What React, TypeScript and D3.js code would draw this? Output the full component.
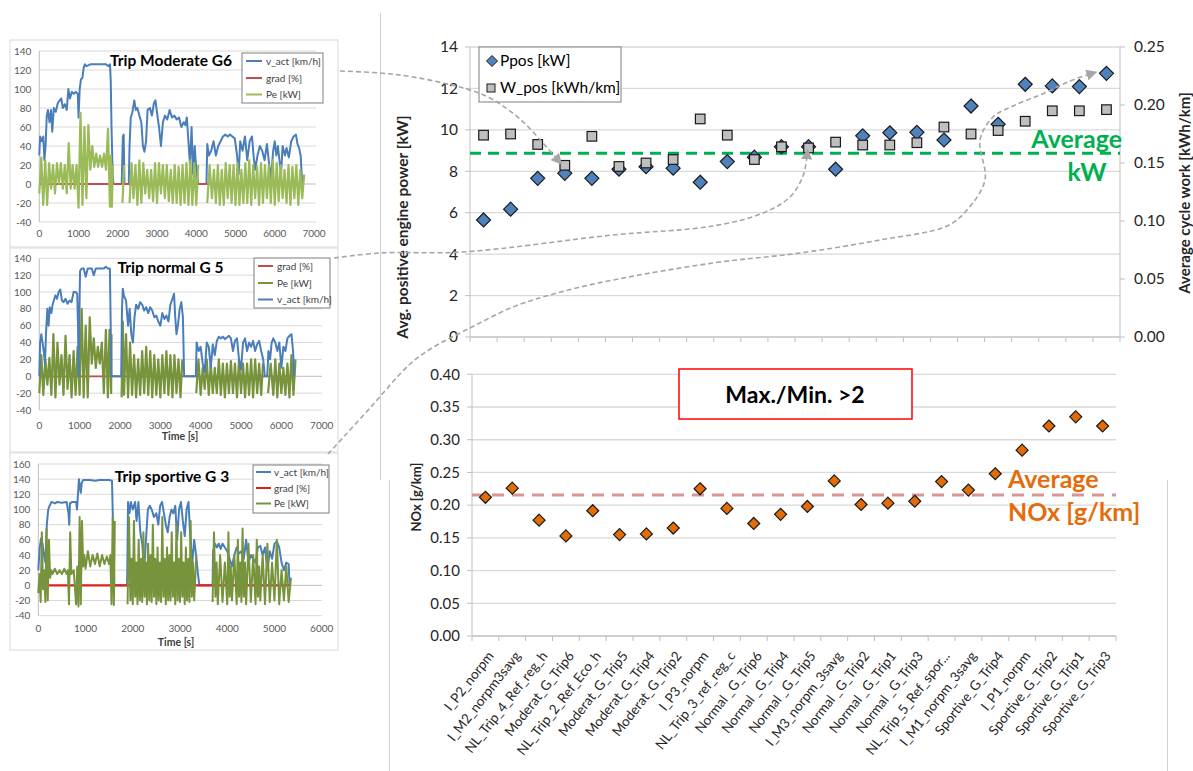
import React from 'react';
import * as d3 from 'd3';

const FONT = "Lato, 'Open Sans', 'DejaVu Sans', sans-serif";

// ---------------- main chart data ----------------
const categories = [
  'I_P2_norpm', 'I_M2_norpm3savg', 'NL_Trip_4_Ref_reg_h', 'Moderat_G_Trip6', 'NL_Trip_2_Ref_Eco_h',
  'Moderat_G_Trip5', 'Moderat_G_Trip4', 'Moderat_G_Trip2', 'I_P3_norpm', 'NL_Trip_3_ref_reg_c',
  'Normal _G_Trip6', 'Normal _G_Trip4', 'Normal _G_Trip5', 'I_M3_norpm_3savg', 'Normal _G_Trip2',
  'Normal _G_Trip1', 'Normal _G_Trip3', 'NL_Trip_5_Ref_spor...', 'I_M1_norpm_3savg', 'Sportive_G_Trip4',
  'I_P1_norpm', 'Sportive_G_Trip2', 'Sportive_G_Trip1', 'Sportive_G_Trip3'];

const pposKW = [5.65, 6.17, 7.66, 7.9, 7.66, 8.1, 8.22, 8.15, 7.47, 8.47, 8.68, 9.19,
  9.19, 8.1, 9.71, 9.86, 9.88, 9.51, 11.15, 10.27, 12.2, 12.12, 12.09, 12.73];
const wposKWhKm = [0.174, 0.175, 0.166, 0.148, 0.173, 0.147, 0.15, 0.153, 0.188, 0.174, 0.153, 0.164,
  0.163, 0.168, 0.1655, 0.1655, 0.1675, 0.181, 0.175, 0.178, 0.186, 0.195, 0.195, 0.196];
const noxGkm = [0.212, 0.226, 0.177, 0.153, 0.1915, 0.155, 0.156, 0.165, 0.225, 0.195, 0.172, 0.186,
  0.198, 0.237, 0.201, 0.203, 0.206, 0.236, 0.223, 0.248, 0.284, 0.321, 0.335, 0.321];
const avgKW = 8.87;
const avgNOx = 0.2155;

const powerTicks = [0, 2, 4, 6, 8, 10, 12, 14];
const workTicks = [0, 0.05, 0.1, 0.15, 0.2, 0.25];
const noxTicks = [0, 0.05, 0.1, 0.15, 0.2, 0.25, 0.3, 0.35, 0.4];

// ---------------- small trip charts data ----------------
// [time s, value]
const moderateVact = [[0,30],[20,50],[60,45],[100,50],[130,25],[160,40],[190,72],[220,78],[260,65],[300,78],[330,55],[370,80],[420,76],[470,85],[520,88],[560,90],[600,80],[650,84],[700,78],[740,100],[780,90],[830,97],[880,95],[930,97],[980,95],[1000,70],[1030,100],[1060,110],[1100,112],[1130,122],[1160,126],[1200,124],[1300,126],[1400,126],[1500,126],[1600,126],[1700,126],[1760,124],[1800,126],[1820,110],[1840,60],[1870,10],[1890,0],[2000,0],[2100,0],[2130,50],[2150,52],[2170,0],[2280,0],[2300,40],[2330,70],[2370,75],[2420,88],[2460,78],[2500,80],[2550,72],[2600,65],[2640,40],[2680,34],[2720,45],[2760,78],[2820,80],[2870,72],[2920,85],[2960,88],[3000,75],[3050,60],[3100,40],[3150,65],[3200,72],[3260,68],[3320,78],[3380,70],[3440,72],[3500,68],[3560,70],[3620,60],[3680,65],[3720,62],[3760,70],[3800,45],[3840,20],[3880,60],[3920,10],[3960,40],[4000,15],[4050,0],[4200,0],[4260,0],[4280,42],[4320,30],[4380,35],[4440,45],[4500,30],[4560,40],[4620,45],[4680,50],[4740,52],[4800,50],[4860,52],[4920,50],[4980,48],[5040,30],[5080,10],[5120,45],[5180,35],[5240,50],[5300,25],[5360,45],[5420,50],[5460,30],[5500,15],[5560,30],[5620,40],[5680,35],[5740,25],[5800,42],[5860,20],[5900,5],[5960,35],[6000,45],[6040,30],[6080,40],[6120,25],[6160,10],[6200,40],[6260,30],[6300,38],[6360,28],[6420,45],[6480,50],[6540,52],[6580,42],[6620,38],[6660,30],[6700,0]];
// [time s, low, high] per interval
const moderatePe = [[0,-10,28],[100,-22,25],[200,-22,22],[300,-5,20],[400,-10,22],[500,0,22],[600,-5,20],[700,-10,43],[800,-5,20],[900,-5,20],[1000,-25,75],[1100,-22,60],[1200,-15,62],[1300,15,40],[1400,18,32],[1500,18,30],[1600,18,32],[1700,15,58],[1800,-24,30],[1850,-24,20],[1900,null,null],[2120,-20,20],[2200,null,null],[2300,-20,22],[2400,-15,20],[2500,-22,25],[2600,-20,22],[2700,-10,15],[2800,-15,15],[2900,-18,22],[3000,-20,22],[3100,-10,20],[3200,-15,20],[3300,-18,15],[3400,-20,20],[3500,-20,18],[3600,-22,20],[3700,-20,22],[3800,-22,25],[3900,-22,22],[4000,-22,20],[4100,null,null],[4280,-20,20],[4400,-15,15],[4500,-20,20],[4600,-22,15],[4700,-22,22],[4800,-15,20],[4900,-20,20],[5000,-22,22],[5100,-22,15],[5200,-20,22],[5300,-20,25],[5400,-22,20],[5500,-15,18],[5600,-22,22],[5700,-20,20],[5800,-15,20],[5900,-20,25],[6000,-22,22],[6100,-18,20],[6200,-15,15],[6300,-20,20],[6400,-22,18],[6500,-15,20],[6600,-22,15],[6700,-15,10]];
const moderateGrad = [[0,0],[6700,0]];

const normalVact = [[0,0],[20,40],[50,50],[80,40],[110,30],[140,15],[170,55],[200,80],[230,60],[260,82],[300,75],[330,85],[360,90],[400,96],[440,92],[480,100],[520,103],[560,90],[600,88],[650,92],[700,86],[750,90],[800,88],[850,100],[900,100],[940,98],[960,60],[975,0],[990,60],[1010,125],[1050,128],[1100,128],[1150,118],[1200,128],[1300,128],[1350,120],[1400,128],[1500,128],[1600,128],[1650,130],[1700,128],[1750,128],[1770,60],[1790,0],[2030,0],[2050,80],[2070,104],[2100,95],[2150,90],[2200,60],[2240,80],[2280,50],[2320,40],[2360,70],[2400,85],[2450,80],[2500,88],[2550,85],[2600,78],[2650,82],[2700,75],[2750,82],[2800,78],[2850,70],[2900,72],[2950,65],[3000,60],[3050,75],[3100,68],[3150,72],[3200,65],[3250,85],[3300,92],[3340,98],[3370,70],[3400,50],[3440,62],[3480,80],[3520,88],[3560,70],[3590,0],[3880,0],[3900,40],[3950,30],[4000,35],[4050,15],[4100,5],[4150,40],[4200,35],[4250,10],[4300,38],[4350,25],[4400,42],[4450,47],[4500,45],[4550,47],[4600,44],[4650,46],[4700,48],[4750,45],[4800,30],[4850,42],[4900,45],[4950,20],[5000,8],[5050,40],[5100,45],[5150,30],[5200,40],[5250,35],[5300,42],[5350,30],[5400,38],[5450,42],[5500,30],[5550,20],[5590,0],[5650,0],[5680,30],[5720,20],[5760,40],[5800,45],[5850,40],[5900,30],[5950,40],[6000,10],[6050,35],[6100,30],[6150,45],[6200,48],[6250,50],[6290,30],[6320,0]];
const normalPe = [[0,-20,25],[100,-22,20],[200,-10,22],[300,-22,50],[400,-25,40],[500,-10,25],[600,-22,48],[700,-15,25],[800,-25,30],[900,-22,35],[1000,-22,80],[1100,-25,60],[1200,-25,70],[1300,15,45],[1400,10,35],[1500,15,40],[1600,-20,55],[1700,-25,55],[1780,-20,50],[1800,null,null],[2040,-25,65],[2100,-22,50],[2200,-25,40],[2300,-22,25],[2400,-25,20],[2500,-22,30],[2600,-20,35],[2700,-22,30],[2800,-25,25],[2900,-22,20],[3000,-25,25],[3100,-20,30],[3200,-22,25],[3300,-25,25],[3400,-20,20],[3500,-25,20],[3590,null,null],[3890,-20,20],[4000,-22,10],[4100,-15,20],[4200,-22,15],[4300,-20,10],[4400,-20,20],[4500,-22,15],[4600,-25,15],[4700,-20,18],[4800,-20,15],[4900,-25,20],[5000,-20,15],[5100,-25,15],[5200,-22,20],[5300,-25,20],[5400,-20,15],[5500,-22,15],[5590,null,null],[5670,-20,15],[5800,-22,20],[5900,-25,15],[6000,-20,10],[6100,-22,15],[6200,-25,25],[6300,-22,20]];
const normalGrad = [[0,0],[6320,0]];

const sportiveVact = [[0,20],[30,50],[60,62],[90,55],[120,40],[150,30],[180,80],[210,100],[240,105],[280,110],[350,108],[400,110],[500,109],[600,110],[640,95],[655,80],[670,108],[720,110],[800,110],[820,100],[840,120],[860,140],[900,122],[920,135],[950,139],[1100,139],[1200,138],[1300,139],[1400,139],[1500,139],[1560,138],[1590,60],[1610,0],[1880,0],[1900,110],[1930,95],[1960,110],[2000,100],[2050,110],[2080,85],[2120,110],[2160,70],[2200,55],[2240,20],[2280,60],[2320,100],[2360,105],[2400,100],[2450,90],[2500,95],[2540,80],[2580,105],[2620,110],[2660,95],[2700,80],[2740,70],[2780,90],[2820,100],[2860,95],[2900,105],[2940,60],[2980,100],[3020,110],[3060,85],[3100,65],[3140,100],[3180,110],[3220,60],[3260,30],[3300,60],[3340,40],[3380,15],[3410,0],[3690,0],[3700,45],[3740,55],[3780,50],[3820,55],[3860,48],[3900,55],[3950,50],[4000,45],[4050,35],[4100,25],[4150,40],[4200,50],[4250,42],[4300,45],[4350,35],[4400,60],[4450,30],[4500,40],[4550,35],[4600,30],[4650,50],[4700,52],[4750,40],[4800,50],[4850,20],[4900,45],[4950,35],[5000,55],[5050,58],[5100,50],[5150,30],[5200,20],[5250,30],[5300,28],[5320,0]];
const sportivePe = [[0,-10,15],[50,-22,70],[100,-5,20],[150,-22,75],[200,-20,60],[250,10,20],[300,15,22],[400,15,20],[500,15,22],[600,15,20],[650,-25,70],[700,15,20],[800,-25,25],[850,-28,90],[900,-25,85],[950,25,40],[1000,22,45],[1100,25,40],[1200,28,42],[1300,25,40],[1400,28,38],[1500,28,40],[1550,-25,90],[1600,-26,85],[1640,null,null],[1890,-25,90],[1950,-20,35],[2000,-25,85],[2050,-15,30],[2100,-25,60],[2150,-20,35],[2200,-22,70],[2250,-15,30],[2300,-25,55],[2350,-20,40],[2400,-22,80],[2450,-15,35],[2500,-25,50],[2550,-20,30],[2600,-22,90],[2650,-15,35],[2700,-25,50],[2750,-20,40],[2800,-20,70],[2850,-15,30],[2900,-25,80],[2950,-20,35],[3000,-22,70],[3050,-15,30],[3100,-25,50],[3150,-20,35],[3200,-22,85],[3250,-15,30],[3300,-20,40],[3390,null,null],[3690,-22,70],[3750,-15,30],[3800,-25,40],[3900,-22,30],[4000,-25,70],[4050,-15,25],[4100,-20,40],[4200,-25,60],[4250,-15,30],[4300,-22,75],[4350,-15,30],[4400,-25,55],[4500,-22,40],[4600,-25,60],[4650,-15,25],[4700,-20,40],[4800,-25,55],[4900,-22,30],[5000,-20,60],[5100,-25,20],[5200,-20,25],[5300,-22,10]];
const sportiveGrad = [[0,0],[5320,0]];

// ---------------- layout (positions / styles) ----------------
const BLUE = '#4a7ebb';
const tripCharts = [
  {
    frame: [10, 40, 328, 207], px0: 39.3, px1: 314, gridRight: 316, pyTop: 51, pyBot: 222,
    yMin: -40, yMax: 140, xMax: 7000, tickY: 233,
    title: 'Trip Moderate G6', titleX: 171, titleY: 66,
    legend: { x: 242, y: 53, w: 81, h: 50, rows: [61, 78, 94.5], lx0: 246, lx1: 262, tx: 266 },
    series: [
      { name: 'v_act [km/h]', color: BLUE, width: 2, kind: 'line', data: moderateVact },
      { name: 'grad [%]', color: '#c0504d', width: 1.8, kind: 'line', data: moderateGrad },
      { name: 'Pe [kW]', color: '#9bbb59', width: 2.2, kind: 'band', data: moderatePe },
    ],
    timeLabel: null,
  },
  {
    frame: [10, 248, 328, 204], px0: 39.3, px1: 321.7, gridRight: 322, pyTop: 258.3, pyBot: 410,
    yMin: -40, yMax: 140, xMax: 7000, tickY: 425,
    title: 'Trip normal G 5', titleX: 170.5, titleY: 273,
    legend: { x: 254, y: 258, w: 76, h: 50, rows: [266, 283, 299.5], lx0: 258, lx1: 273, tx: 277 },
    series: [
      { name: 'grad [%]', color: '#c0504d', width: 1.8, kind: 'line', data: normalGrad },
      { name: 'Pe [kW]', color: '#77933c', width: 2.2, kind: 'band', data: normalPe },
      { name: 'v_act [km/h]', color: BLUE, width: 2, kind: 'line', data: normalVact },
    ],
    timeLabel: [180, 436],
  },
  {
    frame: [10, 453, 328, 197], px0: 38.3, px1: 321.7, gridRight: 322, pyTop: 464, pyBot: 615.7,
    yMin: -40, yMax: 160, xMax: 6000, tickY: 628,
    title: 'Trip sportive G 3', titleX: 172, titleY: 482,
    legend: { x: 253, y: 465, w: 76, h: 48, rows: [472, 488, 503.5], lx0: 256, lx1: 271, tx: 274 },
    series: [
      { name: 'v_act [km/h]', color: BLUE, width: 2, kind: 'line', data: sportiveVact },
      { name: 'grad [%]', color: '#e3211c', width: 2.2, kind: 'line', data: sportiveGrad },
      { name: 'Pe [kW]', color: '#77933c', width: 2, kind: 'band', data: sportivePe },
    ],
    timeLabel: [176, 642],
  },
];

const arrowPaths = [
  [[340, 71], [380, 73], [413, 77], [463, 88], [490, 98], [520, 119], [543, 143], [557, 159]],
  [[334, 258], [380, 253], [463, 252], [613, 235], [713, 226], [763, 213], [790, 197], [803, 176], [807, 156]],
  [[328, 454], [370, 408], [410, 364], [432, 348], [470, 328], [513, 307], [557, 293], [613, 280], [713, 263], [800, 253], [880, 240], [947, 226], [967, 210], [985, 180], [980, 140], [993, 117], [1013, 106], [1047, 92], [1070, 81], [1090, 74]],
];

function diamond(cx: number, cy: number, r: number) {
  return `M${cx},${cy - r}L${cx + r},${cy}L${cx},${cy + r}L${cx - r},${cy}Z`;
}

function TripChart({ cfg }: { cfg: any }) {
  const x = d3.scaleLinear().domain([0, cfg.xMax]).range([cfg.px0, cfg.px1]);
  const y = d3.scaleLinear().domain([cfg.yMin, cfg.yMax]).range([cfg.pyBot, cfg.pyTop]);
  const yTicks = d3.range(cfg.yMin, cfg.yMax + 1, 20);
  const xTicks = d3.range(0, cfg.xMax + 1, 1000);
  const line = d3.line<any>().defined((d) => d[1] != null).x((d) => x(d[0])).y((d) => y(d[1]));
  const bandPts = (data: any[]) => {
    const pts: any[] = [];
    data.forEach((d, i) => {
      const next = data[i + 1];
      const tm = next ? (d[0] + next[0]) / 2 : d[0] + 50;
      pts.push([d[0], d[1]]);
      pts.push([tm, d[2]]);
    });
    return pts;
  };
  const [fx, fy, fw, fh] = cfg.frame;
  const L = cfg.legend;
  return (
    <g fontFamily={FONT}>
      <rect x={fx} y={fy} width={fw} height={fh} fill="#fff" stroke="#d9d9d9" strokeWidth={1} />
      {yTicks.map((v: number) => (
        <line key={'g' + v} x1={cfg.px0} x2={cfg.gridRight} y1={y(v)} y2={y(v)} stroke={v === 0 ? '#bfbfbf' : '#d9d9d9'} strokeWidth={1} />
      ))}
      <line x1={cfg.px0} x2={cfg.px0} y1={cfg.pyTop} y2={cfg.pyBot} stroke="#bfbfbf" />
      {yTicks.map((v: number) => (
        <text key={'t' + v} x={cfg.px0 - 8} y={y(v)} dy="0.35em" textAnchor="end" fontSize={10} fill="#595959">{v}</text>
      ))}
      {xTicks.map((v: number) => (
        <text key={'x' + v} x={x(v)} y={cfg.tickY} dy="0.35em" textAnchor="middle" fontSize={10} fill="#595959">{v}</text>
      ))}
      {cfg.series.map((s: any) => (
        <path key={s.name} d={line(s.kind === 'band' ? bandPts(s.data) : s.data) || ''} fill="none" stroke={s.color} strokeWidth={s.width} strokeLinejoin="round" />
      ))}
      <text x={cfg.titleX} y={cfg.titleY} textAnchor="middle" fontSize={15.5} fontWeight="bold" fill="#000">{cfg.title}</text>
      <rect x={L.x} y={L.y} width={L.w} height={L.h} fill="#fff" stroke="#7f7f7f" strokeWidth={1} />
      {cfg.series.map((s: any, i: number) => (
        <g key={'l' + s.name}>
          <line x1={L.lx0} x2={L.lx1} y1={L.rows[i]} y2={L.rows[i]} stroke={s.color} strokeWidth={2} />
          <text x={L.tx} y={L.rows[i]} dy="0.35em" fontSize={10} fill="#404040">{s.name}</text>
        </g>
      ))}
      {cfg.timeLabel && (
        <text x={cfg.timeLabel[0]} y={cfg.timeLabel[1]} dy="0.35em" textAnchor="middle" fontSize={10.5} fontWeight="bold" fill="#404040">Time [s]</text>
      )}
    </g>
  );
}

export default function App() {
  // top chart
  const xTop = d3.scaleBand().domain(categories).range([470, 1120]);
  const yL = d3.scaleLinear().domain([0, 14]).range([337, 47]);
  const yR = d3.scaleLinear().domain([0, 0.25]).range([337, 47]);
  // bottom chart
  const xBot = d3.scaleBand().domain(categories).range([472, 1116]);
  const yN = d3.scaleLinear().domain([0, 0.4]).range([636, 374.3]);
  const curve = d3.line<any>().x((d) => d[0]).y((d) => d[1]).curve(d3.curveCatmullRom.alpha(0.5));
  const tickColor = '#262626';

  return (
    <svg width={1193} height={771} style={{ position: 'absolute', left: 0, top: 0, background: '#fff' }} fontFamily={FONT}>
      <defs>
        <marker id="arr" viewBox="0 0 10 10" refX="3" refY="5" markerWidth="11" markerHeight="11" markerUnits="userSpaceOnUse" orient="auto">
          <path d="M0,0L10,5L0,10Z" fill="#a6a6a6" />
        </marker>
      </defs>
      <rect x={0} y={0} width={1193} height={771} fill="#fff" />

      {/* frames of the main panel */}
      <line x1={380.5} x2={380.5} y1={13} y2={480} stroke="#d0d0d0" />
      <line x1={389.5} x2={389.5} y1={480} y2={771} stroke="#d0d0d0" />
      <line x1={1167.5} x2={1167.5} y1={480} y2={771} stroke="#d0d0d0" />

      {/* ---------- top chart ---------- */}
      {powerTicks.map((v) => (
        <line key={'gt' + v} x1={470} x2={1120} y1={yL(v)} y2={yL(v)} stroke="#d9d9d9" strokeWidth={1.3} />
      ))}
      <line x1={470} x2={470} y1={47} y2={337} stroke="#bfbfbf" />
      <line x1={1120} x2={1120} y1={47} y2={337} stroke="#bfbfbf" />
      <line x1={470} x2={1120} y1={337} y2={337} stroke="#bfbfbf" />
      {powerTicks.map((v) => (
        <g key={'lt' + v}>
          <line x1={465} x2={470} y1={yL(v)} y2={yL(v)} stroke="#bfbfbf" />
          <text x={458} y={yL(v)} dy="0.35em" textAnchor="end" fontSize={15.5} fill={tickColor}>{v}</text>
        </g>
      ))}
      {workTicks.map((v) => (
        <g key={'rt' + v}>
          <line x1={1120} x2={1125} y1={yR(v)} y2={yR(v)} stroke="#bfbfbf" />
          <text x={1134} y={yR(v)} dy="0.35em" textAnchor="start" fontSize={15.5} fill={tickColor}>{v.toFixed(2)}</text>
        </g>
      ))}
      {categories.map((c) => (
        <line key={'ct' + c} x1={xTop(c)!} x2={xTop(c)!} y1={337} y2={342} stroke="#bfbfbf" />
      ))}
      <line x1={1120} x2={1120} y1={337} y2={342} stroke="#bfbfbf" />
      <text transform="translate(408,227) rotate(-90)" textAnchor="middle" fontSize={15.5} fontWeight="bold" fill="#262626">Avg. positive engine power [kW]</text>
      <text transform="translate(1190,193) rotate(-90)" textAnchor="middle" fontSize={15} fontWeight="bold" fill="#262626">Average cycle work [kWh/km]</text>

      <line x1={470} x2={1120} y1={yL(avgKW)} y2={yL(avgKW)} stroke="#00b050" strokeWidth={3} strokeDasharray="11,7" />

      {categories.map((c, i) => (
        <path key={'dp' + c} d={diamond(xTop(c)! + xTop.bandwidth() / 2, yL(pposKW[i]), 7)} fill="#4f81bd" stroke="#1a1a1a" strokeWidth={1.2} />
      ))}
      {categories.map((c, i) => (
        <rect key={'sq' + c} x={xTop(c)! + xTop.bandwidth() / 2 - 4.8} y={yR(wposKWhKm[i]) - 4.8} width={9.6} height={9.6} fill="#bfbfbf" stroke="#1a1a1a" strokeWidth={1.2} />
      ))}

      {/* legend */}
      <rect x={479} y={47} width={142} height={55} fill="#fff" stroke="#7f7f7f" />
      <path d={diamond(492, 61, 5.5)} fill="#4f81bd" stroke="#1a1a1a" />
      <text x={500} y={61} dy="0.35em" fontSize={15.5} fill="#000">Ppos [kW]</text>
      <rect x={487} y={84} width={8} height={8} fill="#bfbfbf" stroke="#1a1a1a" />
      <text x={500} y={88} dy="0.35em" fontSize={15.5} fill="#000">W_pos [kWh/km]</text>

      <text x={1122} y={148} textAnchor="end" fontSize={25} fontWeight="bold" fill="#00b050">Average</text>
      <text x={1087} y={181} textAnchor="middle" fontSize={25} fontWeight="bold" fill="#00b050">kW</text>

      {/* ---------- bottom chart ---------- */}
      {noxTicks.map((v) => (
        <line key={'gn' + v} x1={472} x2={1116} y1={yN(v)} y2={yN(v)} stroke={v === 0 ? '#bfbfbf' : '#d9d9d9'} strokeWidth={1.3} />
      ))}
      <line x1={472} x2={472} y1={374.3} y2={636} stroke="#bfbfbf" />
      {noxTicks.map((v) => (
        <g key={'nt' + v}>
          <line x1={467} x2={472} y1={yN(v)} y2={yN(v)} stroke="#bfbfbf" />
          <text x={460} y={yN(v)} dy="0.35em" textAnchor="end" fontSize={15} fill={tickColor}>{v.toFixed(2)}</text>
        </g>
      ))}
      {categories.map((c) => (
        <line key={'bt' + c} x1={xBot(c)!} x2={xBot(c)!} y1={636} y2={641} stroke="#bfbfbf" />
      ))}
      <line x1={1116} x2={1116} y1={636} y2={641} stroke="#bfbfbf" />
      <text transform="translate(421,497) rotate(-90)" textAnchor="middle" fontSize={13} fontWeight="bold" fill="#262626">NOx [g/km]</text>

      <line x1={472} x2={1116} y1={yN(avgNOx)} y2={yN(avgNOx)} stroke="#d99594" strokeWidth={3} strokeDasharray="12,8" />
      {categories.map((c, i) => (
        <path key={'dn' + c} d={diamond(xBot(c)! + xBot.bandwidth() / 2, yN(noxGkm[i]), 6)} fill="#e36c09" stroke="#1a1a1a" strokeWidth={1.2} />
      ))}
      {categories.map((c) => (
        <text key={'lab' + c} transform={`translate(${xBot(c)! + xBot.bandwidth() / 2 + 9},656) rotate(-52)`} textAnchor="end" fontSize={13.5} fill={tickColor}>{c}</text>
      ))}

      <rect x={679} y={369} width={233} height={50} fill="#fff" stroke="#ff0000" strokeWidth={1.5} />
      <text x={795} y={403} textAnchor="middle" fontSize={23} fontWeight="bold" fill="#000">Max./Min. &gt;2</text>

      <text x={1008} y={488} fontSize={25} fontWeight="bold" fill="#e46c0a">Average</text>
      <text x={1008} y={521} fontSize={25} fontWeight="bold" fill="#e46c0a">NOx [g/km]</text>

      {/* ---------- small trip charts ---------- */}
      {tripCharts.map((cfg, i) => (
        <TripChart key={i} cfg={cfg} />
      ))}

      {/* ---------- dashed annotation arrows ---------- */}
      {arrowPaths.map((p, i) => (
        <path key={'ar' + i} d={curve(p as any) || ''} fill="none" stroke="#a6a6a6" strokeWidth={1.6} strokeDasharray="5,3" markerEnd="url(#arr)" />
      ))}
    </svg>
  );
}
